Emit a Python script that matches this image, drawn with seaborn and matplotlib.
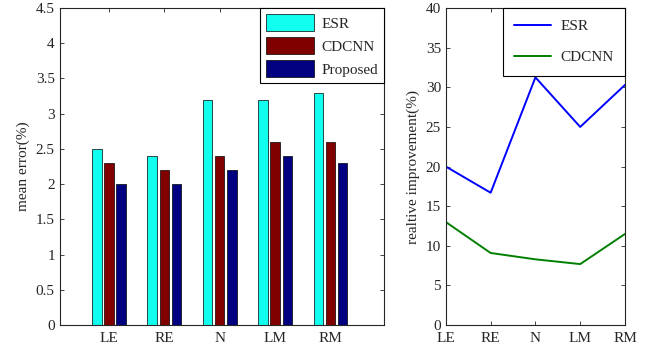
import numpy as np
import pandas as pd
import matplotlib
matplotlib.use("Agg")
import matplotlib.pyplot as plt
import seaborn as sns

# data
parts = ["LE", "RE", "N", "LM", "RM"]
esr_err = [2.5, 2.4, 3.2, 3.2, 3.3]
cdcnn_err = [2.3, 2.2, 2.4, 2.6, 2.6]
prop_err = [2.0, 2.0, 2.2, 2.4, 2.3]
esr_imp = [20.0, 16.7, 31.25, 25.0, 30.3]
cdcnn_imp = [13.0, 9.1, 8.3, 7.7, 11.5]

sns.set_style("ticks")
plt.rcParams["font.family"] = ["Liberation Serif", "DejaVu Serif"]
plt.rcParams["xtick.direction"] = "in"
plt.rcParams["ytick.direction"] = "in"
plt.rcParams["xtick.top"] = True
plt.rcParams["ytick.right"] = True
plt.rcParams["font.size"] = 11

err = pd.DataFrame({
    "part": parts * 3,
    "method": ["ESR"] * 5 + ["CDCNN"] * 5 + ["Proposed"] * 5,
    "err": esr_err + cdcnn_err + prop_err,
})
imp = pd.DataFrame({
    "x": list(range(1, 6)) * 2,
    "method": ["ESR"] * 5 + ["CDCNN"] * 5,
    "imp": esr_imp + cdcnn_imp,
})

fig = plt.figure(figsize=(6.49, 3.47), dpi=100)
ax1 = fig.add_axes([0.092, 0.063, 0.5, 0.914])
ax2 = fig.add_axes([0.687, 0.063, 0.276, 0.914])

sns.barplot(data=err, x="part", y="err", hue="method", ax=ax1,
            palette=["#11FFEE", "#800000", "#000080"], width=0.66, gap=0.22,
            edgecolor="black", linewidth=0.5, saturation=1)
ax1.set_xlim(-0.89, 4.97)
ax1.set_ylim(0, 4.5)
ax1.set_yticks(np.arange(0, 4.51, 0.5))
ax1.set_yticklabels(["0", "0.5", "1", "1.5", "2", "2.5", "3", "3.5", "4", "4.5"])
ax1.set_xlabel("")
ax1.set_ylabel("mean error(%)")
ax1.legend(loc="upper right", fancybox=False, edgecolor="black", framealpha=1,
           borderaxespad=0, handlelength=3.1, handleheight=1.3, labelspacing=0.42,
           handletextpad=0.5, fontsize=11).get_frame().set_linewidth(0.8)

sns.lineplot(data=imp, x="x", y="imp", hue="method", ax=ax2,
             palette=["#0000FF", "#008000"], linewidth=1.4)
ax2.set_xlim(1, 5)
ax2.set_ylim(0, 40)
ax2.set_xticks(range(1, 6))
ax2.set_xticklabels(parts)
ax2.set_yticks(range(0, 41, 5))
ax2.set_xlabel("")
ax2.set_ylabel("realtive improvement(%)")
ax2.legend(loc="upper right", fancybox=False, edgecolor="black", framealpha=1,
           borderaxespad=0, handlelength=2.4, labelspacing=1.15, borderpad=0.75,
           handletextpad=0.6, fontsize=11).get_frame().set_linewidth(0.8)

for ax in (ax1, ax2):
    for s in ax.spines.values():
        s.set_linewidth(0.8)
    ax.tick_params(length=3, width=0.6, labelsize=11)
    ax.tick_params(axis="x", pad=5)

fig.savefig("out.png", dpi=100)
